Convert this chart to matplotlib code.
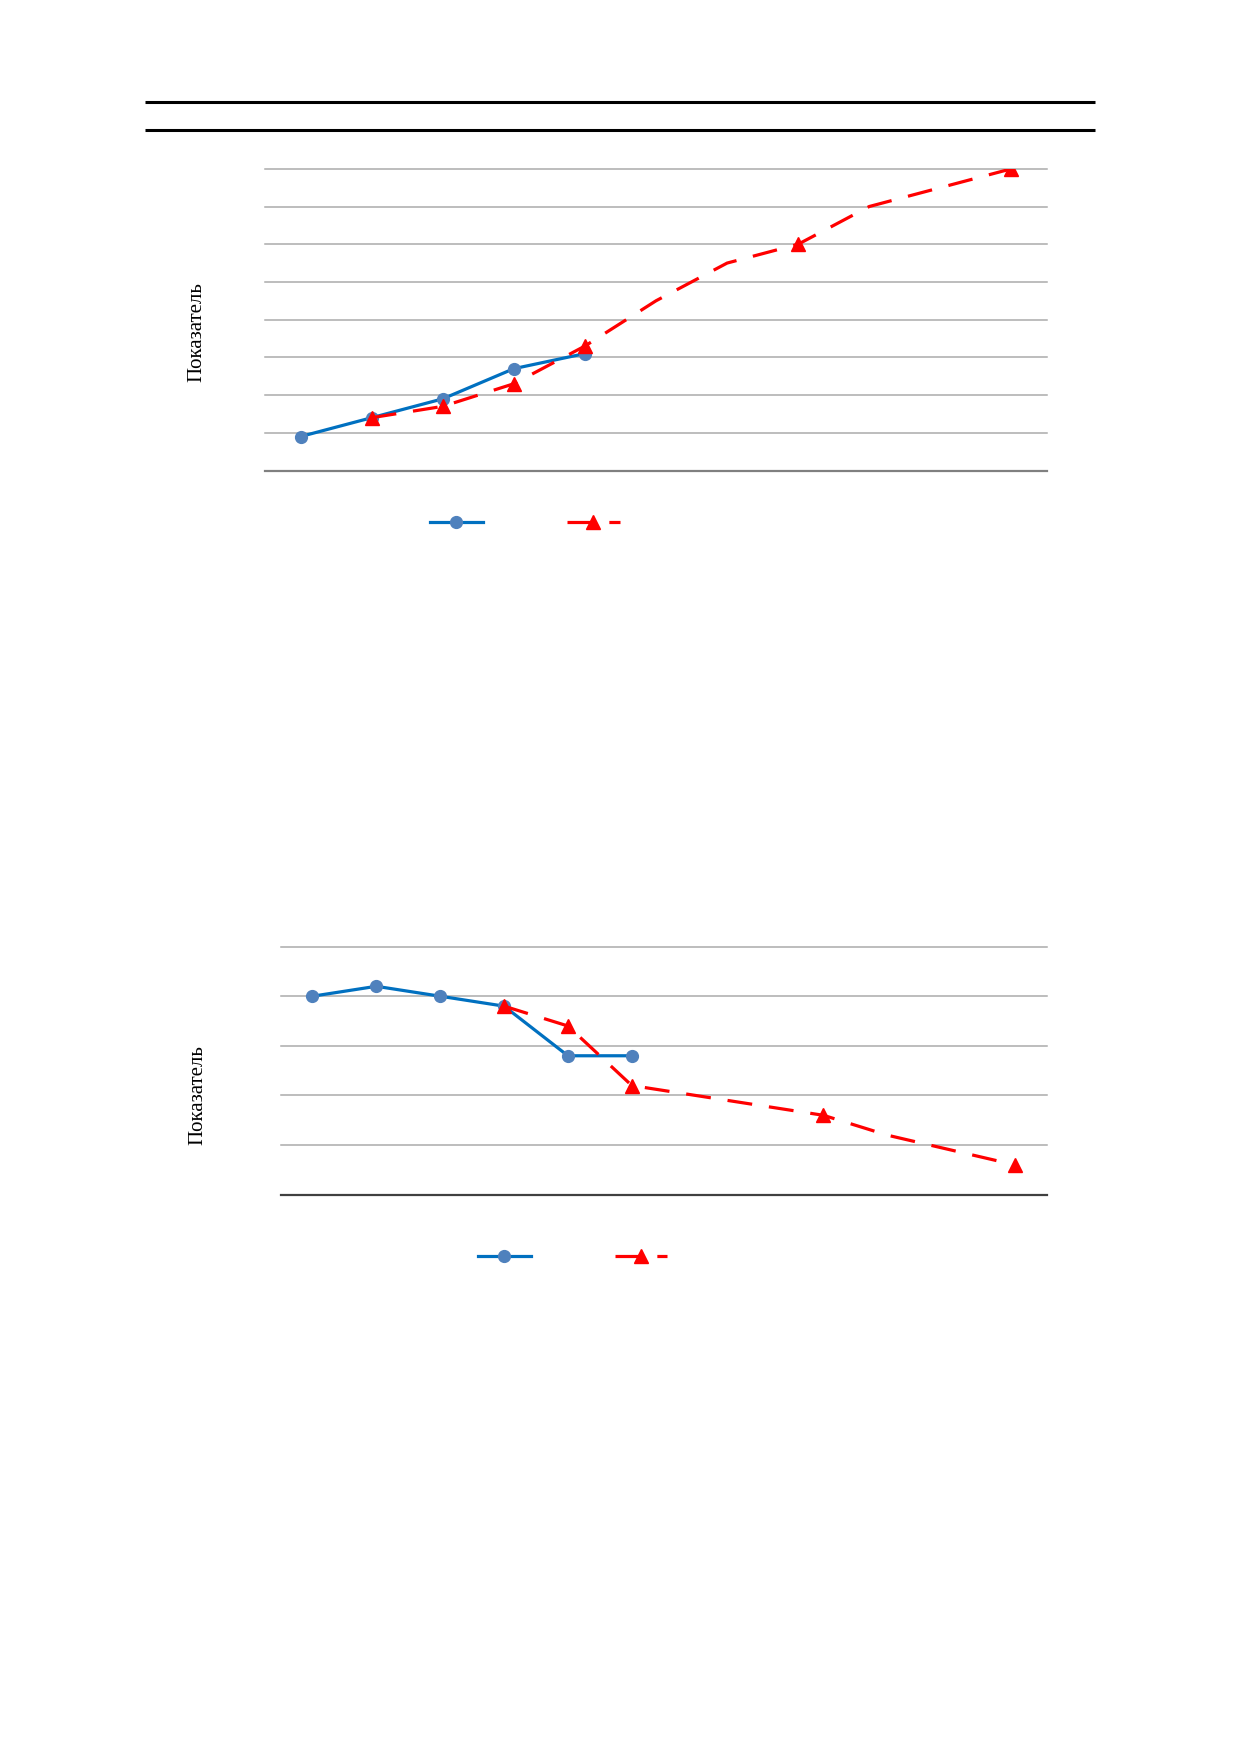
import numpy as np
import matplotlib.pyplot as plt

plt.rcParams['font.family'] = ['Liberation Serif', 'DejaVu Serif']

# chart 1: 11 categories, 8 grid steps
n1 = 11
fact1 = [0.9, 1.4, 1.9, 2.7, 3.1] + [np.nan] * 6
prog1 = [np.nan, 1.4, 1.7, 2.3, 3.3, 4.5, 5.5, 6.0, 7.0, 7.5, 8.0]
marks1 = [1, 2, 3, 4, 7, 10]

# chart 2: 12 categories, 5 grid steps
n2 = 12
fact2 = [4.0, 4.2, 4.0, 3.8, 2.8, 2.8] + [np.nan] * 6
prog2 = [np.nan] * 3 + [3.8, 3.4, 2.2, 2.0, 1.8, 1.6, 1.2, 0.9, 0.6]
marks2 = [3, 4, 5, 8, 11]

ylabel = 'Показатель'

W, H = 1239, 1752
fig = plt.figure(figsize=(W / 100, H / 100), dpi=100)


def px_axes(x0, y0, x1, y1):
    return fig.add_axes([x0 / W, 1 - y1 / H, (x1 - x0) / W, (y1 - y0) / H])


# page rules at top
rule = fig.add_axes([0, 0, 1, 1], zorder=-1)
rule.set_xlim(0, W)
rule.set_ylim(H, 0)
rule.axis('off')
for yy in [101.7, 129.6]:
    rule.plot([145, 1095], [yy, yy], color='black', lw=2.2, solid_capstyle='butt')


def draw(ax, n, ymax, fact, prog, marks, base_col, leg_x, leg_y):
    x = np.arange(n)
    ax.plot(x, fact, color='#0070C0', lw=2.3, marker='o', ms=8.5,
            mfc='#4F81BD', mec='#4F81BD', zorder=3)
    ax.plot(x, prog, color='#FF0000', lw=2.3, ls=(0, (7.8, 5.3)), marker='^',
            ms=9.5, mfc='#FF0000', mec='#FF0000', markevery=marks, zorder=4)
    ax.set_xlim(-0.5, n - 0.5)
    ax.set_ylim(0, ymax)
    ax.set_yticks(np.arange(0, ymax + 1))
    ax.yaxis.grid(True, color='#ABABAB', lw=1.1, clip_on=False)
    ax.set_axisbelow(True)
    for s in ['top', 'right', 'left']:
        ax.spines[s].set_visible(False)
    ax.spines['bottom'].set_color(base_col)
    ax.spines['bottom'].set_linewidth(1.6)
    ax.tick_params(left=False, bottom=False, labelleft=False, labelbottom=False)
    for g in ax.get_ygridlines():
        g.set_clip_on(False)
    h = ax.get_lines()
    ax.legend(h, [' ', ' '], loc='center', bbox_to_anchor=(leg_x, leg_y),
              ncol=2, frameon=False, handlelength=3.8, columnspacing=5.5,
              handletextpad=0.3, fontsize=10)


ax1 = px_axes(265, 168.8, 1047, 470.5)
draw(ax1, n1, 8, fact1, prog1, marks1, '#808080', 0.337, -0.174)
fig.text(197 / W, 1 - 332 / H, ylabel, rotation=90, ha='center', va='center',
         fontsize=15)

ax2 = px_axes(280.5, 946.6, 1047, 1194.7)
draw(ax2, n2, 5, fact2, prog2, marks2, '#404040', 0.386, -0.251)
fig.text(198 / W, 1 - 1095 / H, ylabel, rotation=90, ha='center', va='center',
         fontsize=15)

fig.savefig('out.png', dpi=100, facecolor='white')
